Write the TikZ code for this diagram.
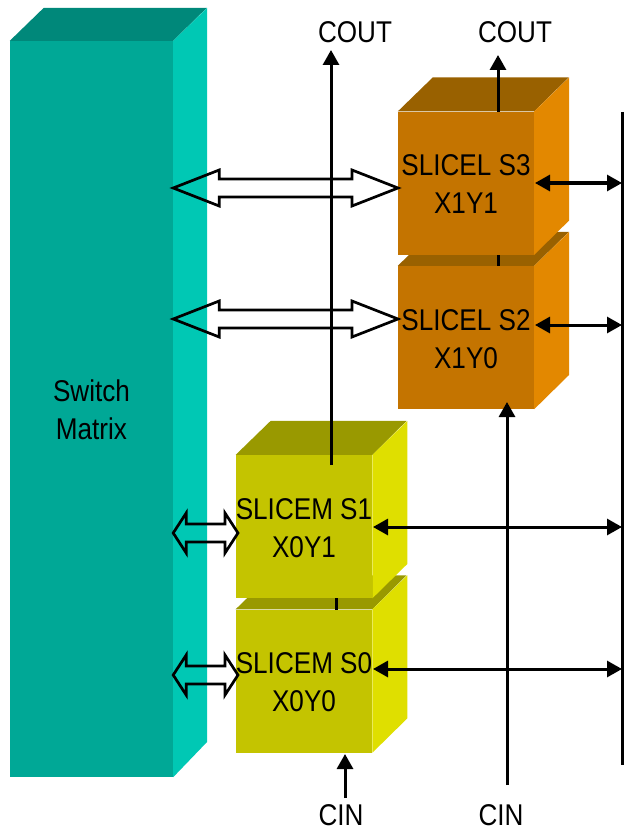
\documentclass[tikz,border=0pt]{standalone}
\usepackage{fontspec}
\setmainfont[FakeStretch=0.87]{Liberation Sans}
\usetikzlibrary{positioning, arrows.meta, calc}
\definecolor{tealfront}{RGB}{0,168,150}
\definecolor{tealside}{RGB}{0,200,180}
\definecolor{tealtop}{RGB}{0,136,122}
\definecolor{orangefront}{RGB}{196,116,0}
\definecolor{orangeside}{RGB}{227,136,0}
\definecolor{orangetop}{RGB}{153,97,0}
\definecolor{olivefront}{RGB}{196,196,0}
\definecolor{oliveside}{RGB}{223,223,0}
\definecolor{olivetop}{RGB}{153,153,0}
\tikzset{
  block/.style={
    inner sep=0pt, align=center, text=black,
    minimum width=136pt, minimum height=143pt,
    font=\fontsize{30}{38}\selectfont,
    text height=61pt, text depth=0pt
  },
  label/.style={inner sep=0pt, font=\fontsize{30}{38}\selectfont},
  rel/.style={-{Triangle[length=15pt,width=16pt]}, line width=3pt, black},
  relboth/.style={{Triangle[length=15pt,width=16pt]}-{Triangle[length=15pt,width=16pt]}, line width=3pt, black},
  wire/.style={line width=3pt, black},
  hollow/.style n args={3}{
    draw=black, line width=2.7pt, miter limit=10,
    to path={
      (\tikztostart) -- ($(\tikztostart)+(#1,-#2)$) -- ($(\tikztostart)+(#1,-#3)$)
      -- ($(\tikztotarget)+(-#1,-#3)$) -- ($(\tikztotarget)+(-#1,-#2)$) -- (\tikztotarget)
      -- ($(\tikztotarget)+(-#1,#2)$) -- ($(\tikztotarget)+(-#1,#3)$)
      -- ($(\tikztostart)+(#1,#3)$) -- ($(\tikztostart)+(#1,#2)$) -- cycle
    }
  }
}
\begin{document}
\begin{tikzpicture}[x=1pt, y=-1pt]
  \useasboundingbox (0,0) rectangle (624,829);

  % switch matrix
  \node[block, fill=tealfront, minimum width=163pt, minimum height=736pt] (sw) at (91.5,409) {Switch\\Matrix};
  \fill[tealtop] (sw.north west) -- ++(34,-33) -- ++(163,0) -- (sw.north east) -- cycle;
  \fill[tealside] (sw.north east) -- ++(34,-33) -- ++(0,734) -- (sw.south east) -- cycle;

  % slices, lower ones first
  \node[block, fill=orangefront] (s2) at (466,337.5) {SLICEL S2\\X1Y0};
  \fill[orangetop] (s2.north west) -- ++(35,-34) -- ++(136,0) -- (s2.north east) -- cycle;
  \fill[orangeside] (s2.north east) -- ++(35,-34) -- ++(0,143) -- (s2.south east) -- cycle;
  \node[block, fill=orangefront, above=11pt of s2] (s3) {SLICEL S3\\X1Y1};
  \fill[orangetop] (s3.north west) -- ++(35,-34) -- ++(136,0) -- (s3.north east) -- cycle;
  \fill[orangeside] (s3.north east) -- ++(35,-34) -- ++(0,143) -- (s3.south east) -- cycle;

  \node[block, fill=olivefront] (s0) at (304,681) {SLICEM S0\\X0Y0};
  \fill[olivetop] (s0.north west) -- ++(35,-34) -- ++(136,0) -- (s0.north east) -- cycle;
  \fill[oliveside] (s0.north east) -- ++(35,-34) -- ++(0,143) -- (s0.south east) -- cycle;
  \node[block, fill=olivefront, above=11pt of s0] (s1) {SLICEM S1\\X0Y1};
  \fill[olivetop] (s1.north west) -- ++(35,-34) -- ++(136,0) -- (s1.north east) -- cycle;
  \fill[oliveside] (s1.north east) -- ++(35,-34) -- ++(0,143) -- (s1.south east) -- cycle;

  % labels
  \node[label] (cout1) at (355,32) {COUT};
  \node[label] (cout2) at (515,32) {COUT};
  \node[label] (cin0) at (341,815) {CIN};
  \node[label] (cin2) at (501,815) {CIN};

  % free ends
  \coordinate (bustop) at (622,112);
  \coordinate (busbot) at (622,765);
  \coordinate (coutatop) at (331,50);
  \coordinate (coutabot) at (331,465);
  \coordinate (coutbtop) at (498,55);
  \coordinate (coutbbot) at (498,112);
  \coordinate (cinatop) at (345,754);
  \coordinate (cinabot) at (345,798);
  \coordinate (cinbtop) at (507,402);
  \coordinate (cinbbot) at (507,785);
  \coordinate (h3) at (398,188);
  \coordinate (h2) at (398,319);
  \coordinate (h1) at (238,533);
  \coordinate (h0) at (238,675);
  \coordinate (g3) at (sw.east |- h3);
  \coordinate (g2) at (sw.east |- h2);
  \coordinate (g1) at (sw.east |- h1);
  \coordinate (g0) at (sw.east |- h0);
  \coordinate (t3) at (535,183);
  \coordinate (t2) at (535,325);
  \coordinate (t1) at (373,527);
  \coordinate (t0) at (373,669);
  \coordinate (tickup) at (498,255);
  \coordinate (tickupend) at (498,266);
  \coordinate (ticklow) at (336,598);
  \coordinate (ticklowend) at (336,610);

  % carry lines
  \draw[rel] (coutabot) -- (coutatop);
  \draw[rel] (coutbbot) -- (coutbtop);
  \draw[rel] (cinabot) -- (cinatop);
  \draw[rel] (cinbbot) -- (cinbtop);
  \draw[wire] (tickup) -- (tickupend);
  \draw[wire] (ticklow) -- (ticklowend);

  % bus
  \draw[wire] (bustop) -- (busbot);
  \draw[relboth] (t3) -- (bustop |- t3);
  \draw[relboth] (t2) -- (bustop |- t2);
  \draw[relboth] (t1) -- (bustop |- t1);
  \draw[relboth] (t0) -- (bustop |- t0);

  % wide links
  \draw[hollow={46}{18}{9}] (g3) to (h3);
  \draw[hollow={46}{18}{9}] (g2) to (h2);
  \draw[hollow={13}{20}{9}] (g1) to (h1);
  \draw[hollow={13}{20}{9}] (g0) to (h0);
\end{tikzpicture}
\end{document}
